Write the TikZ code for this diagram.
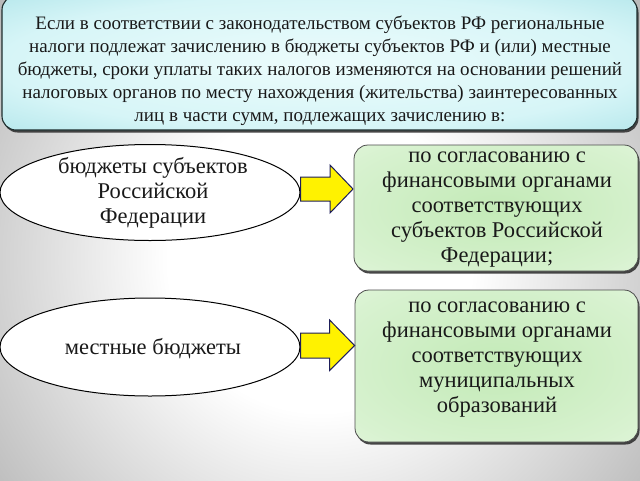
\documentclass[tikz,border=0pt]{standalone}
\usepackage{fontspec}
\setmainfont{Liberation Serif}
\usetikzlibrary{shadows,shapes.geometric,calc}
\definecolor{hA}{RGB}{236,252,252}
\definecolor{hB}{RGB}{214,245,247}
\definecolor{hC}{RGB}{160,222,228}
\definecolor{hD}{RGB}{105,192,200}
\definecolor{hE}{RGB}{75,165,175}
\definecolor{gA}{RGB}{195,234,183}
\definecolor{gB}{RGB}{216,242,208}
\definecolor{gC}{RGB}{238,250,234}
\definecolor{bgout}{RGB}{92,92,92}
\definecolor{edge}{RGB}{30,45,45}
\definecolor{arrowedge}{RGB}{30,30,90}
\definecolor{txt}{RGB}{25,25,25}
\pgfdeclareradialshading{headshade}{\pgfpoint{0bp}{0bp}}{color(0bp)=(hA); color(25bp)=(hB); color(44bp)=(hC); color(50bp)=(hD); color(70bp)=(hE)}
\pgfdeclareradialshading{greenshade}{\pgfpoint{0bp}{0bp}}{color(0bp)=(gA); color(30bp)=(gB); color(50bp)=(gC); color(70bp)=(gC)}
\pgfdeclareradialshading{bgshade}{\pgfpoint{0bp}{0bp}}{color(0bp)=(white); color(5bp)=(white); color(25bp)=(bgout); color(50bp)=(bgout)}
\begin{document}
\begin{tikzpicture}[x=1pt,y=-1pt,
  headbox/.style={rounded corners=14pt, draw=edge, line width=1.1pt, shading=headshade,
     drop shadow={shadow xshift=1.5pt, shadow yshift=-2.5pt, fill=black!80, opacity=0.9}, inner sep=0pt},
  greenbox/.style={rounded corners=14pt, draw=black!70, line width=0.8pt, shading=greenshade,
     drop shadow={shadow xshift=1.5pt, shadow yshift=-2.5pt, fill=black!80, opacity=0.9}, inner sep=0pt},
  oval/.style={ellipse, draw=black, line width=1pt, fill=white, inner sep=0pt},
  headtext/.style={text=txt, align=center, font=\rmfamily\fontsize{19}{23}\selectfont, inner sep=0pt},
  bigtext/.style={text=txt, align=center, font=\rmfamily\fontsize{22.5}{25}\selectfont, inner sep=0pt},
  yarrow/.style={fill=yellow, draw=arrowedge, line width=1pt, line join=miter}]
\useasboundingbox (0,0) rectangle (640,480);
\begin{scope}
\clip (0,0) rectangle (640,480);
\shade[shading=bgshade] (320-760,260-760) rectangle (320+760,260+760);
\end{scope}
% header
\node[headbox, minimum width=635pt, minimum height=134pt] (head) at (319.5,63) {};
\node[headtext] (headtxt) at (320,70.5) {Если в соответствии с законодательством субъектов РФ региональные\\налоги подлежат зачислению в бюджеты субъектов РФ и (или) местные\\бюджеты, сроки уплаты таких налогов изменяются на основании решений\\налоговых органов по месту нахождения (жительства) заинтересованных\\лиц в части сумм, подлежащих зачислению в:};
% ellipses
\node[oval, minimum width=300pt, minimum height=96pt] (e1) at (150,192.5) {};
\node[bigtext] (e1t) at (153,193) {бюджеты субъектов\\Российской\\Федерации};
\node[oval, minimum width=300pt, minimum height=98pt] (e2) at (150,347) {};
\node[bigtext] (e2t) at (153,349) {местные бюджеты};
% green boxes
\node[greenbox, minimum width=284pt, minimum height=126pt] (b1) at (496,208) {};
\node[bigtext] (b1t) at (497,209.5) {по согласованию с\\финансовыми органами\\соответствующих\\субъектов Российской\\Федерации;};
\node[greenbox, minimum width=283pt, minimum height=152pt] (b2) at (496.5,366) {};
\node[bigtext] (b2t) at (497,359.5) {по согласованию с\\финансовыми органами\\соответствующих\\муниципальных\\образований};
% arrows
\coordinate (a1s) at (e1.east |- 0,189);
\coordinate (a1e) at (353,189);
\filldraw[yarrow] ($(a1s)+(0,-12)$) -- ($(a1e)+(-23,-12)$) -- ($(a1e)+(-23,-24)$) -- (a1e) -- ($(a1e)+(-23,24)$) -- ($(a1e)+(-23,12)$) -- ($(a1s)+(0,12)$) -- cycle;
\coordinate (a2s) at (e2.east |- 0,345.5);
\coordinate (a2e) at (b2.west |- 0,345.5);
\filldraw[yarrow] ($(a2s)+(0,-12.5)$) -- ($(a2e)+(-25,-12.5)$) -- ($(a2e)+(-25,-25.5)$) -- (a2e) -- ($(a2e)+(-25,25)$) -- ($(a2e)+(-25,12.5)$) -- ($(a2s)+(0,12.5)$) -- cycle;
\end{tikzpicture}
\end{document}
